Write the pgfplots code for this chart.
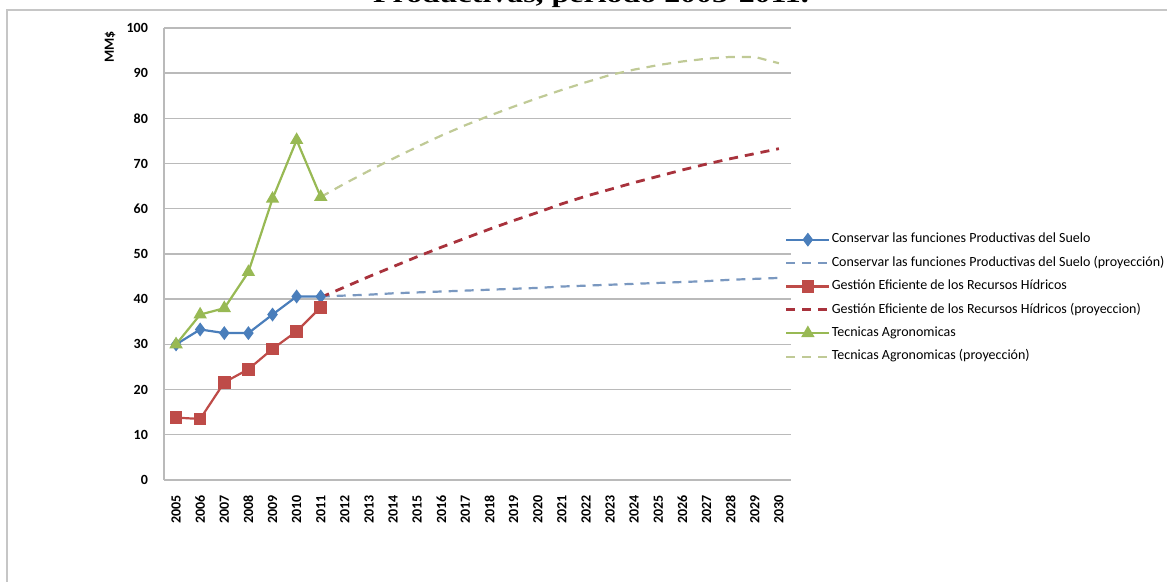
\documentclass[border=0pt]{standalone}
\usepackage{fontspec}
\setmainfont{Carlito}
\newfontfamily\titlefont{Liberation Serif}
\usepackage{pgfplots}
\pgfplotsset{compat=1.18}

\definecolor{suelo}{RGB}{74,126,187}
\definecolor{sueloP}{RGB}{122,152,192}
\definecolor{hidro}{RGB}{190,75,72}
\definecolor{hidroP}{RGB}{168,50,60}
\definecolor{agro}{RGB}{152,185,84}
\definecolor{agroP}{RGB}{192,202,150}
\definecolor{grilla}{RGB}{186,186,186}

\begin{document}
\begin{tikzpicture}
\useasboundingbox (0,0) rectangle (583.5pt,291pt);
\clip (0,0) rectangle (583.5pt,291pt);

% outer frame of the chart area
\draw[gray!45, line width=1pt] (3.5pt,-5pt) -- (3.5pt,286pt) -- (590pt,286pt);

% heading (only its lower part falls inside the page)
\node[anchor=base, inner sep=0pt] at (295.5pt,289.6pt)
  {\scalebox{1.33}[1]{\titlefont\fontsize{12}{14}\selectfont\bfseries Productivas, período 2005-2011.}};

\begin{axis}[
  at={(82pt,51pt)}, anchor=south west,
  scale only axis, width=313.5pt, height=226pt,
  xmin=2004.5, xmax=2030.5,
  ymin=0, ymax=100,
  xtick={2005,...,2030},
  ytick={0,10,...,100},
  axis x line*=bottom, axis y line*=left,
  axis line style={grilla, line width=0.7pt, -},
  major tick length=0pt,
  ymajorgrids,
  grid style={grilla, line width=0.7pt},
  /pgf/number format/assume math mode=true,
  /pgf/number format/1000 sep={},
  xticklabel style={font=\fontsize{7}{8}\selectfont\bfseries, yshift=-4.2pt, rotate=90, anchor=east},
  yticklabel style={font=\fontsize{7}{8}\selectfont\bfseries, xshift=-4.5pt},
  ylabel={MM\$},
  every axis y label/.style={at={(axis description cs:-0.086,0.958)}, rotate=90, anchor=center,
    font=\fontsize{7}{8}\selectfont\bfseries},
  legend cell align=left,
  legend style={at={(axis description cs:0.9904,0.5465)}, anchor=north west,
    draw=none, fill=none, inner sep=0pt, outer sep=0pt,
    font=\fontsize{7}{8}\selectfont,
    nodes={inner sep=0pt, text height=5pt, text depth=1.7pt},
    row sep=5pt, column sep=0.5pt},
  legend image code/.code={%
    \draw[mark repeat=2, mark phase=2, #1] plot coordinates {(0pt,0pt) (10.75pt,0pt) (21.5pt,0pt)};},
]

% Conservar las funciones Productivas del Suelo
\addplot[suelo, line width=1.1pt, mark=diamond*, mark size=2.6pt,
  mark options={fill=suelo, draw=suelo, solid}] coordinates {
  (2005,30.0) (2006,33.3) (2007,32.5) (2008,32.5) (2009,36.6) (2010,40.6) (2011,40.6)};
\addlegendentry{Conservar las funciones Productivas del Suelo}

\addplot[sueloP, line width=1.1pt, dash pattern=on 4.5pt off 3.5pt] coordinates {
  (2011,40.6) (2012,40.8) (2013,41.0) (2014,41.3) (2015,41.5) (2016,41.7) (2017,41.9)
  (2018,42.1) (2019,42.3) (2020,42.5) (2021,42.8) (2022,43.0) (2023,43.2) (2024,43.4)
  (2025,43.6) (2026,43.8) (2027,44.0) (2028,44.3) (2029,44.5) (2030,44.7)};
\addlegendentry{Conservar las funciones Productivas del Suelo (proyección)}

% Gestión Eficiente de los Recursos Hídricos
\addplot[hidro, line width=1.1pt, mark=square*, mark size=2.6pt,
  mark options={fill=hidro, draw=hidro, solid}] coordinates {
  (2005,13.8) (2006,13.5) (2007,21.6) (2008,24.5) (2009,29.0) (2010,32.9) (2011,38.2)};
\addlegendentry{Gestión Eficiente de los Recursos Hídricos}

\addplot[hidroP, line width=1.4pt, dash pattern=on 4.5pt off 3.5pt] coordinates {
  (2011,40.4) (2012,42.7) (2013,45.0) (2014,47.2) (2015,49.4) (2016,51.5) (2017,53.5)
  (2018,55.5) (2019,57.4) (2020,59.2) (2021,61.1) (2022,62.8) (2023,64.3) (2024,65.8)
  (2025,67.2) (2026,68.6) (2027,69.9) (2028,71.1) (2029,72.2) (2030,73.3)};
\addlegendentry{Gestión Eficiente de los Recursos Hídricos (proyeccion)}

% Tecnicas Agronomicas
\addplot[agro, line width=1.1pt, mark=triangle*, mark size=2.8pt,
  mark options={fill=agro, draw=agro, solid}] coordinates {
  (2005,30.0) (2006,36.6) (2007,38.0) (2008,46.0) (2009,62.2) (2010,75.2) (2011,62.6)};
\addlegendentry{Tecnicas Agronomicas}

\addplot[agroP, line width=1.1pt, dash pattern=on 4.5pt off 3.5pt] coordinates {
  (2011,62.6) (2012,65.6) (2013,68.4) (2014,71.1) (2015,73.7) (2016,76.2) (2017,78.5)
  (2018,80.6) (2019,82.6) (2020,84.5) (2021,86.3) (2022,88.0) (2023,89.6) (2024,90.8)
  (2025,91.8) (2026,92.6) (2027,93.2) (2028,93.6) (2029,93.6) (2030,92.2)};
\addlegendentry{Tecnicas Agronomicas (proyección)}

\end{axis}
\end{tikzpicture}
\end{document}
